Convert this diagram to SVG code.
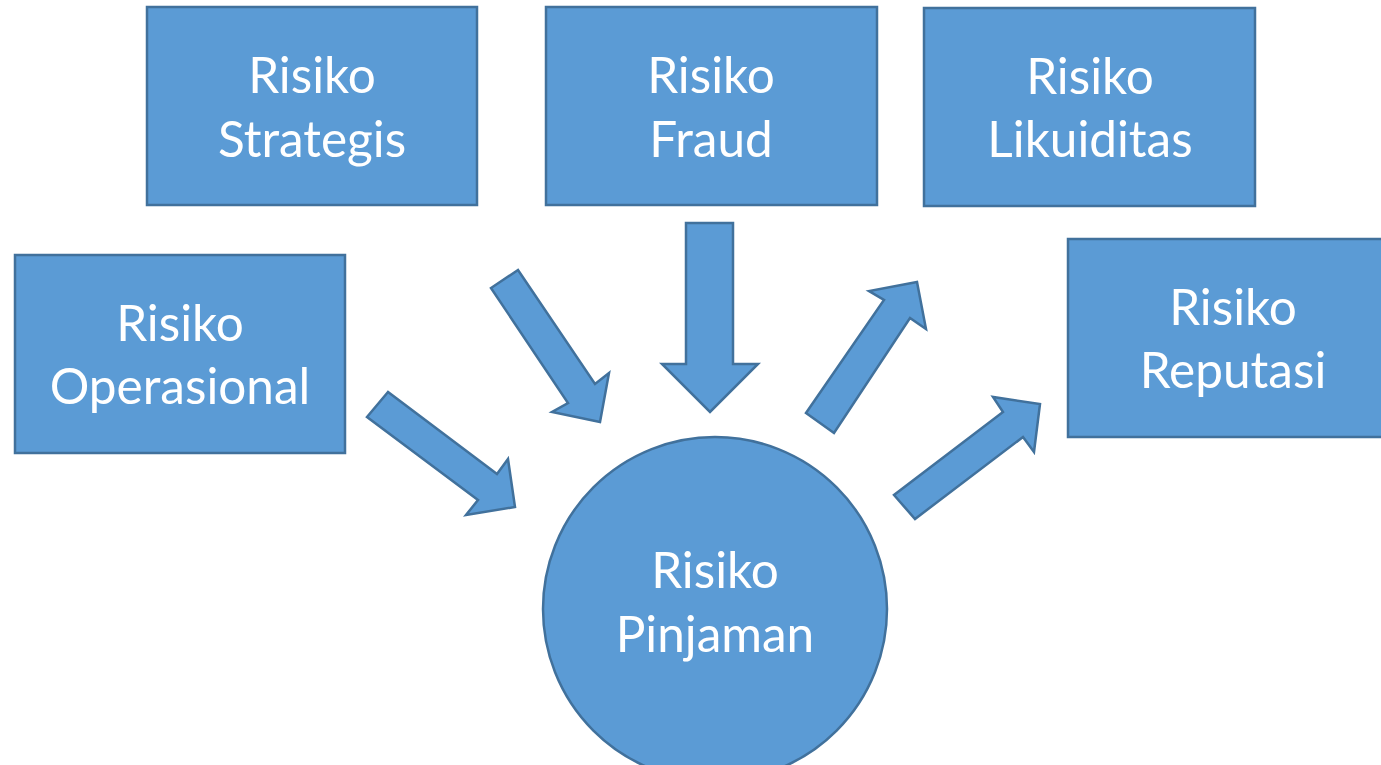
<svg xmlns="http://www.w3.org/2000/svg" width="1381" height="765" viewBox="0 0 1381 765">
  <style>
    .shape { fill: #5B9BD5; stroke: #41719C; stroke-width: 2.5; stroke-linejoin: miter; }
    .label { font-family: Lato, "Open Sans", sans-serif; font-size: 49.5px; fill: #FFFFFF; text-anchor: middle; }
  </style>
  <rect width="1381" height="765" fill="#FFFFFF"/>

  <!-- block arrows between the risk nodes -->
  <g id="connectors">
    <polygon class="shape" points="388,392 367,417 478,500 466,515 515,507 508,459 497,474"/>
    <polygon class="shape" points="518,270 491,288 568,403 552,412 600,422 609,373 595,384"/>
    <polygon class="shape" points="686,223 733,223 733,364 758,364 710,412 662,364 686,364"/>
    <polygon class="shape" points="806,413 834,433 910,318 926,329 917,282 869,291 884,300"/>
    <polygon class="shape" points="894,495 915,519 1023,437 1034,452 1040,404 993,397 1003,412"/>
  </g>

  <g id="strategis">
    <rect class="shape" x="147" y="7" width="330" height="198"/>
    <text class="label" x="312" y="93">Risiko</text>
    <text class="label" x="312" y="157">Strategis</text>
  </g>

  <g id="fraud">
    <rect class="shape" x="546" y="7" width="331" height="198"/>
    <text class="label" x="711" y="93">Risiko</text>
    <text class="label" x="711" y="157">Fraud</text>
  </g>

  <g id="likuiditas">
    <rect class="shape" x="924" y="8" width="331" height="198"/>
    <text class="label" x="1090" y="94">Risiko</text>
    <text class="label" x="1090" y="157">Likuiditas</text>
  </g>

  <g id="operasional">
    <rect class="shape" x="15" y="255" width="330" height="198"/>
    <text class="label" x="180" y="341">Risiko</text>
    <text class="label" x="180" y="404">Operasional</text>
  </g>

  <g id="reputasi">
    <rect class="shape" x="1068" y="239" width="330" height="198"/>
    <text class="label" x="1233" y="325">Risiko</text>
    <text class="label" x="1233" y="388">Reputasi</text>
  </g>

  <g id="pinjaman">
    <circle class="shape" cx="715" cy="609" r="172"/>
    <text class="label" x="715" y="588">Risiko</text>
    <text class="label" x="715" y="652">Pinjaman</text>
  </g>
</svg>
